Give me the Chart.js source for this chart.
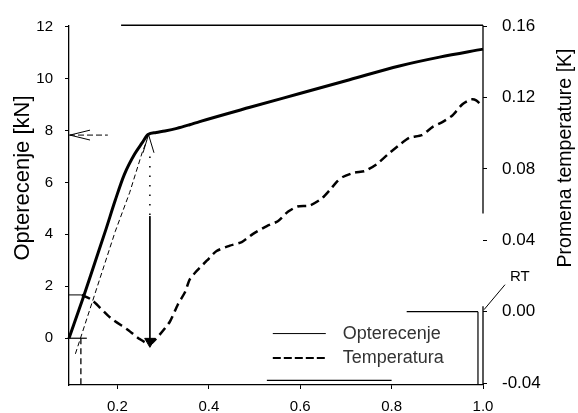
<!DOCTYPE html>
<html>
<head>
<meta charset="utf-8">
<script src="https://cdn.jsdelivr.net/npm/chart.js@4/dist/chart.umd.min.js"></script>
<style>
  body { margin: 0; background: #fff; }
  #wrap { width: 578px; height: 413px; }
</style>
</head>
<body>
<div id="wrap"><canvas id="chart" width="578" height="413"></canvas></div>
<script>
// load (kN) and temperature change (K) against relative displacement
var loadX  = [0.094, 0.125, 0.150, 0.175, 0.195, 0.215, 0.238, 0.254, 0.267, 0.285, 0.304, 0.330, 0.358, 0.380, 0.490, 0.599, 0.708, 0.817, 0.905, 1.000];
var loadKN = [0.00, 1.56, 2.88, 4.20, 5.30, 6.30, 7.10, 7.52, 7.84, 7.92, 7.98, 8.08, 8.22, 8.34, 8.89, 9.42, 9.95, 10.48, 10.82, 11.13];

var tempX = [0.122, 0.144, 0.184, 0.221, 0.249, 0.271, 0.293, 0.315, 0.332, 0.348, 0.358, 0.374, 0.396, 0.417, 0.446, 0.472, 0.496, 0.527, 0.551, 0.573, 0.594, 0.621, 0.647, 0.664, 0.682, 0.693, 0.719, 0.741, 0.767, 0.791, 0.818, 0.839, 0.866, 0.890, 0.911, 0.933, 0.955, 0.974, 0.985, 0.997];
var tempK = [0.0094, 0.0066, -0.0033, -0.0099, -0.0154, -0.0182, -0.0127, -0.0055, 0.0039, 0.0110, 0.0180, 0.0230, 0.0287, 0.0340, 0.0370, 0.0390, 0.0435, 0.0480, 0.0507, 0.0560, 0.0590, 0.0595, 0.0634, 0.0680, 0.0733, 0.0755, 0.0780, 0.0788, 0.0826, 0.0880, 0.0937, 0.0975, 0.0990, 0.1036, 0.1063, 0.1100, 0.1163, 0.1190, 0.1185, 0.1157];

var xTicks  = [0.2, 0.4, 0.6, 0.8, 1.0];
var kNTicks = [0, 2, 4, 6, 8, 10, 12];
var kTicks  = [-0.04, 0, 0.04, 0.08, 0.12, 0.16];

// construction lines (x, kN)
var yieldLevelX = [0.094, 0.179];   var yieldLevelKN = [7.82, 7.82];
var yieldHeadX  = [0.140, 0.096, 0.140]; var yieldHeadKN = [8.01, 7.82, 7.63];
var slopeX  = [0.108, 0.195, 0.227, 0.254, 0.264];
var slopeKN = [-0.60, 4.10, 5.62, 7.14, 7.60];
var dropDotX = [0.271, 0.271]; var dropDotKN = [7.0, 4.7];
var dropX    = [0.271, 0.271]; var dropKN    = [4.7, -0.05];
var dropHeadX = [0.256, 0.268, 0.280]; var dropHeadKN = [7.14, 7.84, 7.14];
var minMarkX = [0.271]; var minMarkKN = [-0.12];
var offsetX  = [0.120, 0.120]; var offsetKN  = [0, -1.8];
var zeroX    = [0.094, 0.133]; var zeroKN    = [0, 0];
var topX     = [0.208, 1.0];   var topKN     = [12.05, 12.05];
var boxBottomX = [0.527, 0.800]; var boxBottomKN = [-1.62, -1.62];

// reference lines on the temperature axis (x, K)
var startX = [0.094, 0.122]; var startK = [0.0094, 0.0094];
var rtX    = [0.833, 0.989]; var rtK    = [0, 0];
var rtDropX = [0.989, 0.989]; var rtDropK = [0, -0.0405];
var axisTopX = [1.0, 1.0]; var axisTopK = [0.1606, 0.055];
var axisLowX = [1.0, 1.0]; var axisLowK = [0.003, -0.0411];

function pts(xs, ys) {
  return xs.map(function (x, i) { return { x: x, y: ys[i] }; });
}

function line(xs, ys, axis, width, dash) {
  return {
    data: pts(xs, ys),
    yAxisID: axis,
    showLine: true,
    borderColor: '#000',
    borderWidth: width,
    borderDash: dash || [],
    pointRadius: 0,
    fill: false,
    clip: false
  };
}

var FONT = "'Liberation Sans', Arial, sans-serif";

var datasets = [
  Object.assign(line(loadX, loadKN, 'y', 3), { label: 'Opterecenje', cubicInterpolationMode: 'monotone', legendWidth: 1 }),
  Object.assign(line(tempX, tempK, 'y1', 2.5, [9, 5]), { label: 'Temperatura', tension: 0.2, legendWidth: 2, legendDash: [8, 3] }),
  line(yieldLevelX, yieldLevelKN, 'y', 1, [6, 3]),
  line(yieldHeadX, yieldHeadKN, 'y', 1),
  line(slopeX, slopeKN, 'y', 1, [5, 3]),
  line(dropDotX, dropDotKN, 'y', 1.5, [1.5, 8]),
  line(dropX, dropKN, 'y', 1),
  line(dropHeadX, dropHeadKN, 'y', 1),
  {
    data: pts(minMarkX, minMarkKN), yAxisID: 'y', showLine: false,
    pointStyle: 'triangle', rotation: 180, pointRadius: 6,
    backgroundColor: '#000', borderColor: '#000', clip: false
  },
  line(offsetX, offsetKN, 'y', 1.3, [6, 4]),
  line(zeroX, zeroKN, 'y', 1.2),
  line(topX, topKN, 'y', 1.5),
  line(boxBottomX, boxBottomKN, 'y', 1.2),
  line(startX, startK, 'y1', 1),
  line(rtX, rtK, 'y1', 1.2),
  line(rtDropX, rtDropK, 'y1', 1.2),
  line(axisTopX, axisTopK, 'y1', 1.3),
  line(axisLowX, axisLowK, 'y1', 1.3)
];

function fixTicks(values) {
  return function (scale) {
    scale.ticks = values.map(function (v) { return { value: v }; });
  };
}

// rotated axis titles
var axisTitles = {
  id: 'axisTitles',
  afterDraw: function (chart) {
    var ctx = chart.ctx;
    var items = [
      { text: 'Opterecenje [kN]', x: 23, y: 178, size: 22 },
      { text: 'Promena temperature [K]', x: 566, y: 158, size: 19.5 }
    ];
    ctx.save();
    ctx.fillStyle = '#000';
    ctx.textAlign = 'center';
    ctx.textBaseline = 'middle';
    items.forEach(function (t) {
      ctx.save();
      ctx.translate(t.x, t.y);
      ctx.rotate(-Math.PI / 2);
      ctx.font = t.size + 'px ' + FONT;
      ctx.fillText(t.text, 0, 0);
      ctx.restore();
    });
    ctx.restore();
  }
};

// legend inside the plot, plus the RT pointer
var innerLegend = {
  id: 'innerLegend',
  afterDraw: function (chart) {
    var ctx = chart.ctx;
    var xs = chart.scales.x, ys = chart.scales.y;
    var x0 = xs.getPixelForValue(0.54), x1 = xs.getPixelForValue(0.656);
    var tx = xs.getPixelForValue(0.693);
    var rows = [ys.getPixelForValue(0.18), ys.getPixelForValue(-0.76)];
    ctx.save();
    chart.data.datasets.slice(0, 2).forEach(function (ds, i) {
      ctx.strokeStyle = '#000';
      ctx.lineWidth = ds.legendWidth;
      ctx.setLineDash(ds.legendDash || []);
      ctx.beginPath();
      ctx.moveTo(x0, rows[i]);
      ctx.lineTo(x1, rows[i]);
      ctx.stroke();
      ctx.setLineDash([]);
      ctx.fillStyle = '#333';
      ctx.font = '18px ' + FONT;
      ctx.textAlign = 'left';
      ctx.textBaseline = 'middle';
      ctx.fillText(ds.label, tx, rows[i]);
    });

    var px = xs.getPixelForValue(1.0), py = chart.scales.y1.getPixelForValue(0);
    ctx.lineWidth = 1;
    ctx.beginPath();
    ctx.moveTo(px + 1, py - 2);
    ctx.lineTo(px + 22, py - 27);
    ctx.stroke();
    ctx.fillStyle = '#000';
    ctx.font = '15px ' + FONT;
    ctx.fillText('RT', px + 27, py - 35);
    ctx.restore();
  }
};

var tickFont = { family: FONT, size: 15 };

new Chart(document.getElementById('chart'), {
  type: 'scatter',
  data: { datasets: datasets },
  options: {
    responsive: false,
    animation: false,
    layout: { padding: { top: 21, left: 0, right: 0, bottom: 0 } },
    plugins: { legend: { display: false }, tooltip: { enabled: false } },
    scales: {
      x: {
        type: 'linear', position: 'bottom', min: 0.094, max: 1.0,
        afterBuildTicks: fixTicks(xTicks),
        afterFit: function (s) { s.height = 28; },
        ticks: { color: '#000', font: tickFont, padding: 9, maxRotation: 0,
                 callback: function (v) { return v.toFixed(1); } },
        grid: { drawOnChartArea: false, tickLength: 4, tickColor: '#000' },
        border: { color: '#000', width: 1.2 }
      },
      y: {
        type: 'linear', position: 'left', min: -1.8, max: 12.05,
        afterBuildTicks: fixTicks(kNTicks),
        afterFit: function (s) { s.width = 69; },
        ticks: { color: '#000', font: tickFont, padding: 12 },
        grid: { drawOnChartArea: false, tickLength: 4, tickColor: '#000' },
        border: { color: '#000', width: 1.3 }
      },
      y1: {
        type: 'linear', position: 'right', min: -0.0411, max: 0.1606,
        afterBuildTicks: fixTicks(kTicks),
        afterFit: function (s) { s.width = 95; },
        ticks: { color: '#000', font: { family: FONT, size: 17 }, padding: 15,
                 callback: function (v) { return v.toFixed(2); } },
        grid: { drawOnChartArea: false, tickLength: 4, tickColor: '#000' },
        border: { display: false }
      }
    }
  },
  plugins: [axisTitles, innerLegend]
});
</script>
</body>
</html>
